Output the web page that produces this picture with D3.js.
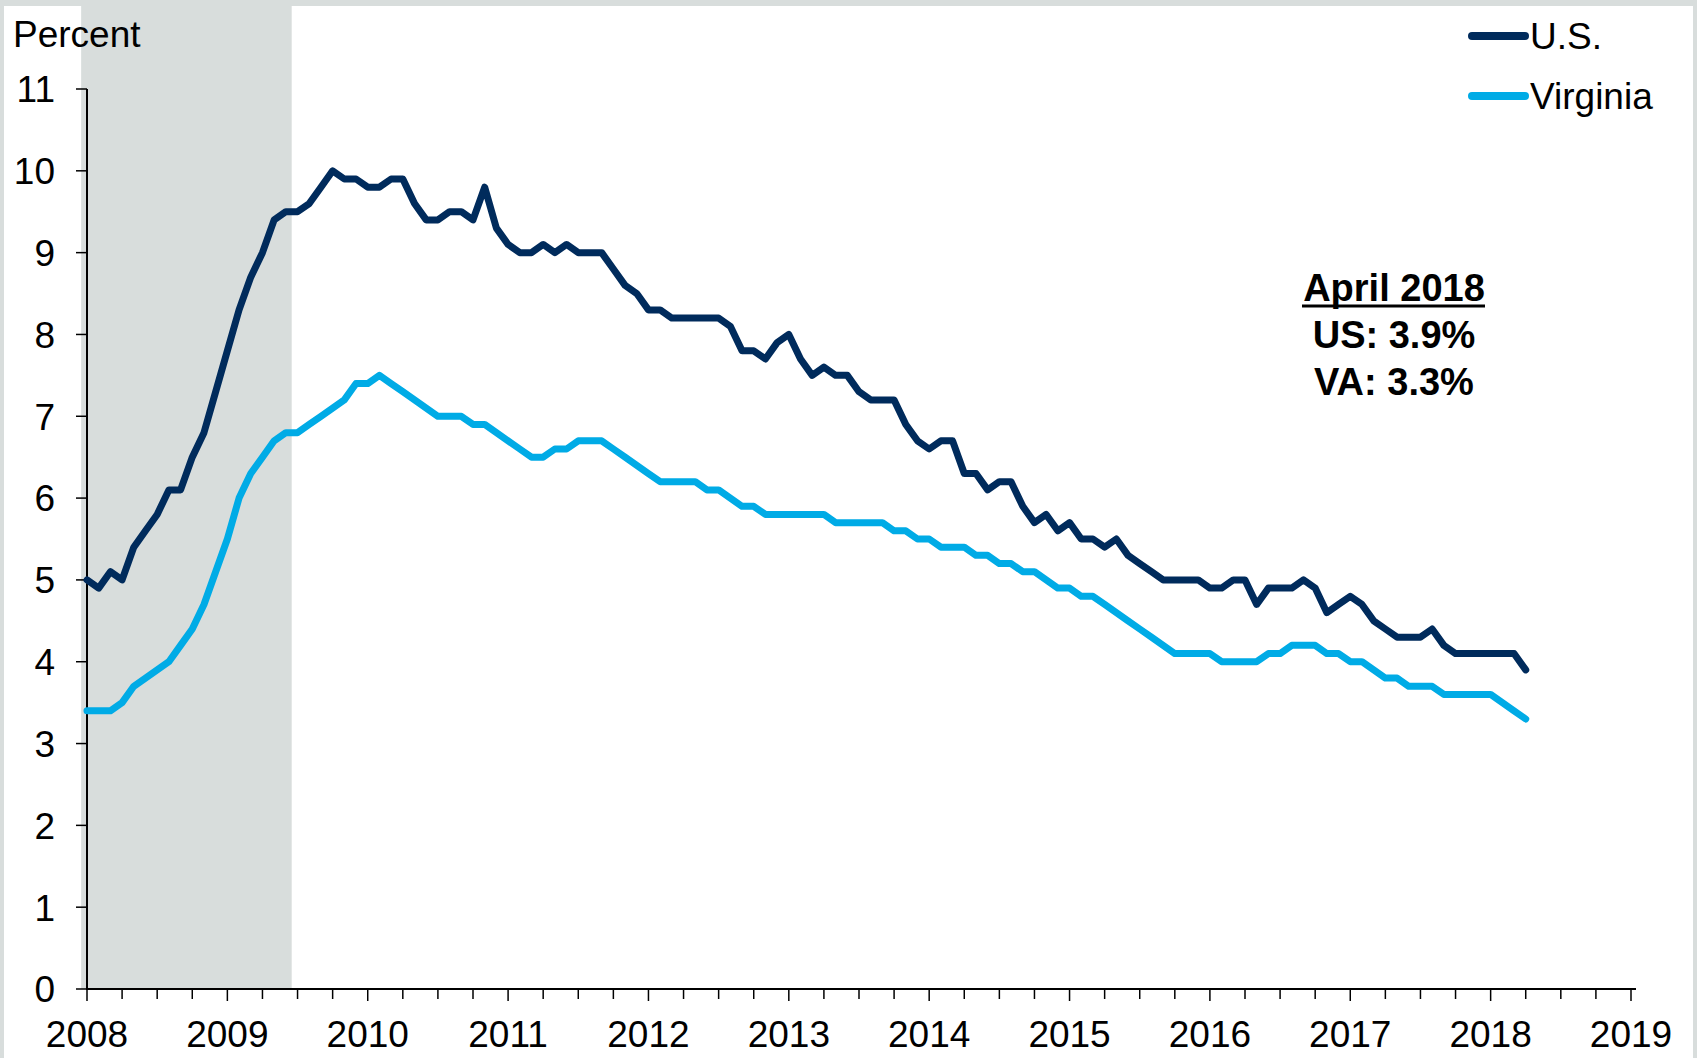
<!DOCTYPE html>
<html>
<head>
<meta charset="utf-8">
<script src="https://cdn.jsdelivr.net/npm/d3@7"></script>
<style>
  html, body { margin:0; padding:0; background:#d8dddc; }
  svg { display:block; }
</style>
</head>
<body>
<svg id="chart" width="1697" height="1058"></svg>
<script>

// monthly unemployment rate, Jan 2008 .. Apr 2018
var startYear = 2008;
var usRate = [
  5.0,4.9,5.1,5.0,5.4,5.6,5.8,6.1,6.1,6.5,6.8,7.3,
  7.8,8.3,8.7,9.0,9.4,9.5,9.5,9.6,9.8,10.0,9.9,9.9,
  9.8,9.8,9.9,9.9,9.6,9.4,9.4,9.5,9.5,9.4,9.8,9.3,
  9.1,9.0,9.0,9.1,9.0,9.1,9.0,9.0,9.0,8.8,8.6,8.5,
  8.3,8.3,8.2,8.2,8.2,8.2,8.2,8.1,7.8,7.8,7.7,7.9,
  8.0,7.7,7.5,7.6,7.5,7.5,7.3,7.2,7.2,7.2,6.9,6.7,
  6.6,6.7,6.7,6.3,6.3,6.1,6.2,6.2,5.9,5.7,5.8,5.6,
  5.7,5.5,5.5,5.4,5.5,5.3,5.2,5.1,5.0,5.0,5.0,5.0,
  4.9,4.9,5.0,5.0,4.7,4.9,4.9,4.9,5.0,4.9,4.6,4.7,
  4.8,4.7,4.5,4.4,4.3,4.3,4.3,4.4,4.2,4.1,4.1,4.1,
  4.1,4.1,4.1,3.9
];
var vaRate = [
  3.4,3.4,3.4,3.5,3.7,3.8,3.9,4.0,4.2,4.4,4.7,5.1,
  5.5,6.0,6.3,6.5,6.7,6.8,6.8,6.9,7.0,7.1,7.2,7.4,
  7.4,7.5,7.4,7.3,7.2,7.1,7.0,7.0,7.0,6.9,6.9,6.8,
  6.7,6.6,6.5,6.5,6.6,6.6,6.7,6.7,6.7,6.6,6.5,6.4,
  6.3,6.2,6.2,6.2,6.2,6.1,6.1,6.0,5.9,5.9,5.8,5.8,
  5.8,5.8,5.8,5.8,5.7,5.7,5.7,5.7,5.7,5.6,5.6,5.5,
  5.5,5.4,5.4,5.4,5.3,5.3,5.2,5.2,5.1,5.1,5.0,4.9,
  4.9,4.8,4.8,4.7,4.6,4.5,4.4,4.3,4.2,4.1,4.1,4.1,
  4.1,4.0,4.0,4.0,4.0,4.1,4.1,4.2,4.2,4.2,4.1,4.1,
  4.0,4.0,3.9,3.8,3.8,3.7,3.7,3.7,3.6,3.6,3.6,3.6,
  3.6,3.5,3.4,3.3
];
var seriesNames = ["U.S.","Virginia"];
var seriesColors = ["#002b5c","#00abe6"];
var yTicks = [0,1,2,3,4,5,6,7,8,9,10,11];
var xYears = [2008,2009,2010,2011,2012,2013,2014,2015,2016,2017,2018,2019];
var recessionMonths = [0,17];   // Jan 2008 .. Jun 2009 (month index)
var noteLines = ["April 2018","US: 3.9%","VA: 3.3%"];

var fontFam = "'Liberation Sans', Arial, sans-serif";

var svg = d3.select("#chart");

// white panel
svg.append("rect")
    .attr("x",4).attr("y",6)
    .attr("width",1689).attr("height",1052)
    .attr("fill","#ffffff");

var x = d3.scaleLinear().domain([2008,2019]).range([87,1631]);
var y = d3.scaleLinear().domain([0,11]).range([989,89]);

var monthToYear=function(i){ return startYear + i/12; };

// recession shading
svg.append("rect")
    .attr("x", x(monthToYear(recessionMonths[0]-0.5)))
    .attr("y", 6)
    .attr("width", x(monthToYear(recessionMonths[1]+0.5)) - x(monthToYear(recessionMonths[0]-0.5)))
    .attr("height", y(0)-6)
    .attr("fill","#d8dddc");

// y axis
var yAxis = svg.append("g");
yAxis.append("line")
    .attr("x1",x(2008)).attr("x2",x(2008))
    .attr("y1",y(11)).attr("y2",y(0))
    .attr("stroke","#000").attr("stroke-width",2);

yAxis.selectAll(".ytick").data(yTicks).enter().append("line")
    .attr("x1",x(2008)-11).attr("x2",x(2008))
    .attr("y1",function(d){ return y(d); })
    .attr("y2",function(d){ return y(d); })
    .attr("stroke","#000").attr("stroke-width",1.5);

yAxis.selectAll(".ylab").data(yTicks).enter().append("text")
    .attr("x",55)
    .attr("y",function(d){ return y(d); })
    .attr("dy","0.36em")
    .style("font-family",fontFam)
    .style("font-size","37px")
    .style("text-anchor","end")
    .style("fill","#000")
    .text(function(d){ return d; });

svg.append("text")
    .attr("x",13).attr("y",47)
    .style("font-family",fontFam)
    .style("font-size","37px")
    .style("fill","#000")
    .text("Percent");

// x axis
var xAxis = svg.append("g");
xAxis.append("line")
    .attr("x1",x(2008)-1).attr("x2",x(2019)+5)
    .attr("y1",y(0)).attr("y2",y(0))
    .attr("stroke","#000").attr("stroke-width",2);

var quarters = d3.range(0, 11*4+1).map(function(q){ return 2008 + q/4; });

xAxis.selectAll(".xtick").data(quarters).enter().append("line")
    .attr("x1",function(d){ return x(d); })
    .attr("x2",function(d){ return x(d); })
    .attr("y1",y(0))
    .attr("y2",function(d){ return y(0) + (d%1===0 ? 12 : 10); })
    .attr("stroke","#000").attr("stroke-width",1.5);

xAxis.selectAll(".xlab").data(xYears).enter().append("text")
    .attr("x",function(d){ return x(d); })
    .attr("y",1047)
    .style("font-family",fontFam)
    .style("font-size","37px")
    .style("text-anchor","middle")
    .style("fill","#000")
    .text(function(d){ return d; });

// lines
var line = d3.line()
    .x(function(d,i){ return x(monthToYear(i)); })
    .y(function(d){ return y(d); });

[usRate, vaRate].forEach(function(serie, k){
    svg.append("path")
        .datum(serie)
        .attr("d", line)
        .attr("fill","none")
        .attr("stroke", seriesColors[k])
        .attr("stroke-width",7)
        .attr("stroke-linejoin","round")
        .attr("stroke-linecap","round");
});

// legend
var legendY = [36,96];
for(var k=0; k < seriesNames.length; k++){
    svg.append("line")
        .attr("x1",1472).attr("x2",1525)
        .attr("y1",legendY[k]).attr("y2",legendY[k])
        .attr("stroke",seriesColors[k])
        .attr("stroke-width",8)
        .attr("stroke-linecap","round");
    svg.append("text")
        .attr("x",1530).attr("y",legendY[k]+13)
        .style("font-family",fontFam)
        .style("font-size","37px")
        .style("fill","#000")
        .text(seriesNames[k]);
}

// note
var noteY = [301,348,395];
for(var n=0; n < noteLines.length; n++){
    svg.append("text")
        .attr("x",1394).attr("y",noteY[n])
        .style("font-family",fontFam)
        .style("font-size","38px")
        .style("font-weight","bold")
        .style("text-anchor","middle")
        .style("fill","#000")
        .text(noteLines[n]);
}
svg.append("line")
    .attr("x1",1302).attr("x2",1485)
    .attr("y1",306).attr("y2",306)
    .attr("stroke","#000").attr("stroke-width",3);

</script>
</body>
</html>
